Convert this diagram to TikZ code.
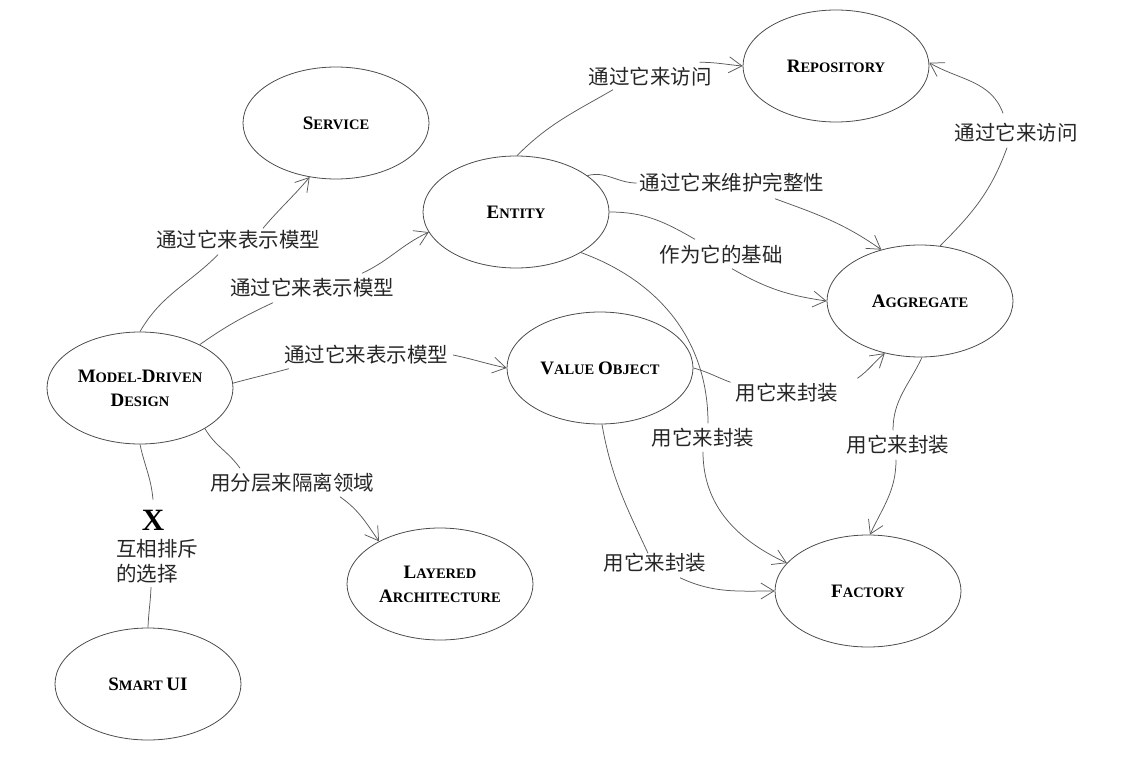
\documentclass[tikz,border=0pt]{standalone}
\usepackage{fontspec}
\setmainfont{Liberation Serif}
\newfontfamily\cjk{Noto Sans CJK SC}
\usetikzlibrary{shapes.geometric,arrows.meta}

% faked small caps: full capital, then reduced capitals
\newcommand{\capA}[1]{{\fontsize{19}{24}\selectfont #1}}
\newcommand{\capB}[1]{{\fontsize{14.5}{24}\selectfont #1}}

\begin{document}
\begin{tikzpicture}[x=1pt,y=-1pt,
  concept/.style={ellipse,draw=black!70,line width=0.8pt,minimum width=186pt,
    minimum height=112pt,inner sep=0pt,align=center,
    font=\bfseries\fontsize{15}{24}\selectfont},
  rel/.style={font=\cjk\fontsize{20.5}{25}\selectfont,inner sep=0pt,text=black!85},
  link/.style={draw=black!65,line width=0.75pt},
  arr/.style={link,-{Straight Barb[length=13pt,width=16pt]}}
]
\useasboundingbox (0,0) rectangle (1121,762);

% concepts
\node[concept] (svc)   at (336,123) {\capA{S}\capB{ERVICE}};
\node[concept] (rep)   at (836,66)  {\capA{R}\capB{EPOSITORY}};
\node[concept] (ent)   at (516,212) {\capA{E}\capB{NTITY}};
\node[concept] (agg)   at (920,301) {\capA{A}\capB{GGREGATE}};
\node[concept] (vo)    at (600,368) {\capA{V}\capB{ALUE} \capA{O}\capB{BJECT}};
\node[concept] (fac)   at (868,591) {\capA{F}\capB{ACTORY}};
\node[concept] (mdd)   at (140,388) {\capA{M}\capB{ODEL}-\capA{D}\capB{RIVEN}\\\capA{D}\capB{ESIGN}};
\node[concept] (smart) at (148,684) {\capA{S}\capB{MART} \capA{UI}};
\node[concept] (lay)   at (440,584) {\capA{L}\capB{AYERED}\\\capA{A}\capB{RCHITECTURE}};

% relation labels
\node[rel] (l1)  at (238,240)  {通过它来表示模型};
\node[rel] (l2)  at (312,288)  {通过它来表示模型};
\node[rel] (l3)  at (366,355)  {通过它来表示模型};
\node[rel] (l4)  at (292,483)  {用分层来隔离领域};
\node[rel] (l6)  at (650,77)   {通过它来访问};
\node[rel] (l7)  at (732,183)  {通过它来维护完整性};
\node[rel] (l8)  at (721,255)  {作为它的基础};
\node[rel] (l9)  at (703,438)  {用它来封装};
\node[rel] (l10) at (787,393)  {用它来封装};
\node[rel] (l11) at (655,563)  {用它来封装};
\node[rel] (l12) at (898,445)  {用它来封装};
\node[rel] (l13) at (1016,133) {通过它来访问};
\node[font=\bfseries\fontsize{31}{31}\selectfont,inner sep=0pt] (xm) at (153,520) {X};
\node[rel,align=left] (excl) at (157,561) {互相排斥\\的选择};

% Model-Driven Design
\draw[link] (mdd.90) to[out=60,in=225] ([xshift=-20pt,yshift=-5pt]l1.south);
\draw[arr]  ([xshift=25pt,yshift=2pt]l1.north) to[out=50,in=230] (svc.244);
\draw[link] (mdd.36) to[out=35,in=205] ([xshift=-39pt,yshift=-5pt]l2.south);
\draw[arr]  ([xshift=50pt,yshift=5pt]l2.north) to[out=25,in=205] (ent.193);
\draw[link] (mdd.3) to[out=15,in=195] ([xshift=5pt,yshift=-4pt]l3.south west);
\draw[arr]  ([xshift=5pt]l3.east) to[out=-12,in=168] (vo.180);
\draw[link] (mdd.-32) to[out=-60,in=125] ([xshift=-52pt,yshift=5pt]l4.north);
\draw[arr]  ([xshift=48pt,yshift=-4pt]l4.south) to[out=-35,in=125] (lay.145);
\draw[link] (mdd.270) to[out=-78,in=95] ([yshift=10pt]xm.north);
\draw[link] ([xshift=-6pt,yshift=-4pt]excl.south) to[out=-92,in=88] (smart.90);

% Entity
\draw[link] (ent.89) to[out=45,in=210] ([xshift=-37pt,yshift=-3pt]l6.south);
\draw[arr]  ([xshift=-12pt,yshift=5pt]l6.north east) to[out=0,in=175] (rep.180);
\draw[link] (ent.27) to[out=15,in=180] ([xshift=-3pt]l7.west);
\draw[arr]  ([xshift=43pt,yshift=-6pt]l7.south) to[out=-20,in=145] (agg.127);
\draw[link] (ent.0) to[out=0,in=150] ([xshift=-26pt,yshift=6pt]l8.north);
\draw[arr]  ([xshift=11pt,yshift=-4pt]l8.south) to[out=-30,in=172] (agg.180);
\draw[link] (ent.-32) to[out=-20,in=90] ([xshift=5pt,yshift=5pt]l9.north);
\draw[arr]  ([yshift=-4pt]l9.south) to[out=-90,in=155] (fac.161);

% Value Object
\draw[link] (vo.0) to[out=-15,in=160] ([xshift=-5pt,yshift=1pt]l10.north west);
\draw[arr]  ([xshift=19pt,yshift=5pt]l10.north east) to[out=35,in=220] (agg.236);
\draw[link] (vo.272) to[out=-80,in=115] ([xshift=-7pt]l11.north);
\draw[arr]  ([xshift=25pt,yshift=-5pt]l11.south) to[out=-25,in=180] (fac.180);

% Aggregate
\draw[link] (agg.272) to[out=-115,in=90] ([xshift=-5pt,yshift=5pt]l12.north);
\draw[arr]  ([xshift=-2pt,yshift=-5pt]l12.south) to[out=-90,in=65] (fac.88);
\draw[link] (agg.70) to[out=45,in=-110] ([xshift=-9pt,yshift=-5pt]l13.south);
\draw[arr]  ([xshift=-13pt,yshift=10pt]l13.north) to[out=110,in=-30] (rep.2);
\end{tikzpicture}
\end{document}
